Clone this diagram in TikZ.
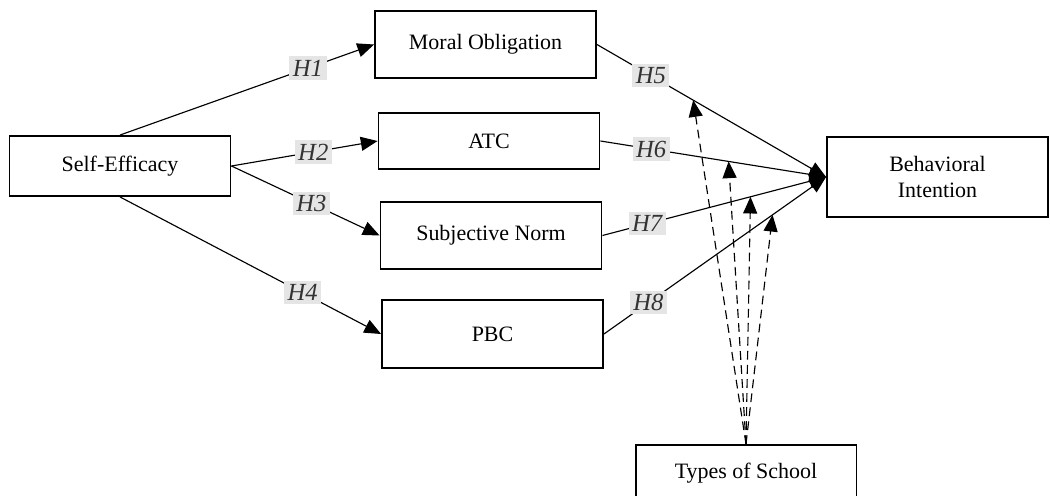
\documentclass[tikz,border=0pt]{standalone}
\usepackage{fontspec}
\setmainfont{Liberation Serif}
\usetikzlibrary{arrows.meta,calc}

\begin{document}
\begin{tikzpicture}[x=0.02cm,y=-0.02cm,
  box/.style={draw,line width=1.1pt,minimum width=4.42cm,align=center,inner sep=0pt,font=\fontsize{12.5}{15}\selectfont},
  hyp/.style={fill=black!10,inner sep=2pt,text=black!80,font=\fontsize{14}{16}\selectfont\itshape},
  link/.style={line width=0.65pt,-{Triangle[length=9.5pt,width=8pt]}},
  moder/.style={link,dash pattern=on 5pt off 3pt}]
  % frame of the picture
  \useasboundingbox (0,0) rectangle (1050,496);
  \clip (0,0) rectangle (1050,496);
  % constructs
  \node[box,minimum height=1.2cm] (SE) at (120,166) {Self-Efficacy};
  \node[box,minimum height=1.34cm] (MO) at (485.5,44.5) {Moral Obligation};
  \node[box,minimum height=1.12cm] (ATC) at (489,141) {ATC};
  \node[box,minimum height=1.34cm] (SN) at (491,235.5) {Subjective Norm};
  \node[box,minimum height=1.36cm] (PBC) at (492.5,334) {PBC};
  \node[box,minimum height=1.6cm] (BI) at (937.5,177) {Behavioral\\Intention};
  \node[box,minimum height=1.12cm] (TS) at (746,473) {Types of School};
  % hypotheses H1--H4
  \draw[link] (SE.north) -- node[hyp,pos=0.74] {H1} (MO.west);
  \draw[link] (SE.east) -- node[hyp,pos=0.56] {H2} (ATC.west);
  \draw[link] (SE.east) -- node[hyp,pos=0.54] {H3} (SN.west);
  \draw[link] (SE.south) -- node[hyp,pos=0.70] {H4} (PBC.west);
  % hypotheses H5--H8
  \draw[link] (MO.east) -- node[hyp,pos=0.235] {H5} (BI.west);
  \draw[link] (ATC.east) -- node[hyp,pos=0.225] {H6} (BI.west);
  \draw[link] (SN.east) -- node[hyp,pos=0.2] {H7} (BI.west);
  \draw[link] (PBC.east) -- node[hyp,pos=0.2] {H8} (BI.west);
  % moderation by type of school
  \coordinate (m5) at ($ (MO.east)!0.42!(BI.west) $);
  \coordinate (m6) at ($ (ATC.east)!0.568!(BI.west) $);
  \coordinate (m7) at ($ (SN.east)!0.662!(BI.west) $);
  \coordinate (m8) at ($ (PBC.east)!0.759!(BI.west) $);
  \foreach \m in {m5,m6,m7,m8}
    \draw[moder] (TS.north) -- (\m);
\end{tikzpicture}
\end{document}
